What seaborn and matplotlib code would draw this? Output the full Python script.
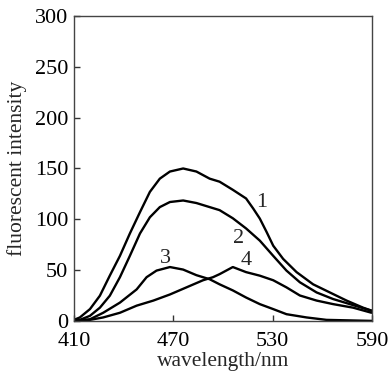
import pandas as pd
import numpy as np
import seaborn as sns
import matplotlib.pyplot as plt

# spectra (wavelength in nm, intensity)
wl_1 = [410, 413.6, 419.7, 425.7, 431.7, 437.8, 443.8, 449.9, 455.9, 461.9, 468, 476, 484, 492, 498, 506, 514, 518.3, 522.3, 526.4, 530.4, 536.4, 544.5, 554.5, 564.6, 574.7, 584.7, 590]
int_1 = [1, 3.4, 11.6, 24.8, 44.6, 64, 86, 107, 127, 140, 147, 150, 147, 140, 137, 129, 120.5, 110.6, 100.7, 87.5, 74, 61, 48, 36, 28, 20, 13, 10]

wl_2 = [410, 413.6, 419.7, 425.7, 431.7, 437.8, 443.8, 449.9, 455.9, 461.9, 468, 476, 484, 492, 498, 506, 514, 522.3, 530.4, 538.4, 546.5, 556.6, 566.6, 576.7, 589.8]
int_2 = [0, 1, 5, 13, 24.8, 43, 64, 86, 102, 112, 117, 118.5, 116, 112, 109, 101, 91, 79, 64, 49.5, 38, 28, 21.5, 16.5, 10]

wl_3 = [410, 419.7, 427.7, 437.8, 447.9, 453.9, 459.9, 468, 476, 484, 492, 498, 506, 514, 522.3, 530.4, 538.4, 550.5, 562.6, 590]
int_3 = [0, 1.6, 8, 18, 31, 43, 49.5, 53, 50.5, 45, 41, 36, 30, 23, 16.5, 11.6, 6.6, 3.4, 1, 0]

wl_4 = [410, 419.7, 427.7, 437.8, 447.9, 458, 468, 478, 488, 494, 498, 502, 506, 514, 522.3, 530.4, 538.4, 546.5, 556.6, 566.6, 578.7, 589.8]
int_4 = [0, 1, 3.4, 8, 15, 20, 26, 33, 40, 43, 46, 49.5, 53, 48, 44.5, 40, 33, 25, 20, 16.5, 13, 8]

curve_names = ["1", "2", "3", "4"]
label_pos = {"1": (523.3, 117), "2": (509.2, 81), "3": (465, 61), "4": (514.3, 59.4)}

frames = []
for name, wl, inten in zip(curve_names, [wl_1, wl_2, wl_3, wl_4], [int_1, int_2, int_3, int_4]):
    frames.append(pd.DataFrame({"wavelength": wl, "intensity": inten, "curve": name}))
df = pd.concat(frames, ignore_index=True)

sns.set_style("ticks")
plt.rcParams["font.family"] = ["Liberation Serif", "DejaVu Serif"]

fig = plt.figure(figsize=(3.89, 3.74), dpi=100)
ax = fig.add_axes([0.190, 0.142, 0.766, 0.815])

sns.lineplot(data=df, x="wavelength", y="intensity", hue="curve", units="curve",
             estimator=None, palette=["black"] * 4, linewidth=1.7, legend=False, ax=ax)

for name, (x, y) in label_pos.items():
    ax.text(x, y, name, fontsize=16, ha="center", va="center")

ax.set_xlim(410, 590)
ax.set_ylim(0, 300)
ax.set_xticks([410, 470, 530, 590])
ax.set_yticks([0, 50, 100, 150, 200, 250, 300])
ax.tick_params(direction="in", length=4, width=1, labelsize=16, colors="#333333", labelcolor="black")
ax.tick_params(axis="x", pad=8)
ax.tick_params(axis="y", pad=4)
ax.set_xlabel("wavelength/nm", fontsize=15.5, labelpad=1)
ax.set_ylabel("fluorescent intensity", fontsize=15.5, labelpad=6)
for sp in ax.spines.values():
    sp.set_visible(True)
    sp.set_color("#444444")
    sp.set_linewidth(1)

fig.savefig("out.png", dpi=100)
